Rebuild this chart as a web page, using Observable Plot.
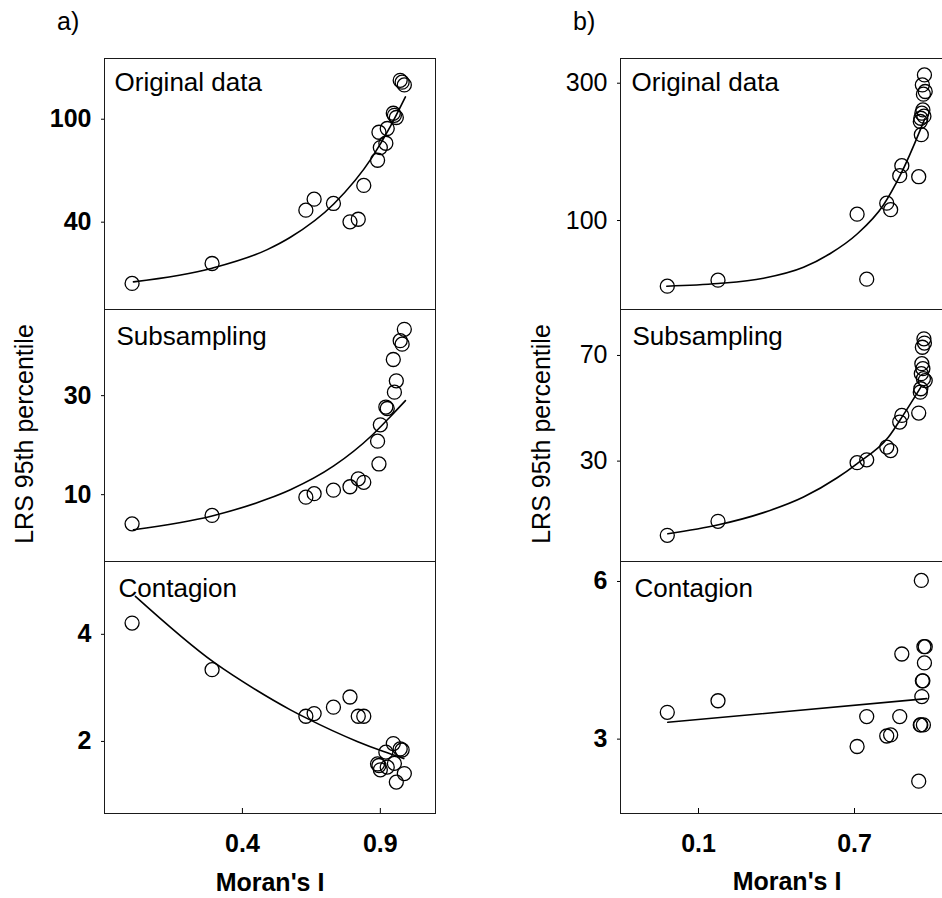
<!DOCTYPE html>
<html>
<head>
<meta charset="utf-8">
<script src="https://cdn.jsdelivr.net/npm/d3@7"></script>
<script src="https://cdn.jsdelivr.net/npm/@observablehq/plot@0.6"></script>
<style>
  html, body { margin: 0; padding: 0; background: #fff; overflow: hidden; }
  #chart { position: relative; width: 942px; height: 898px; overflow: hidden; background: #fff; }
  #chart svg { position: absolute; }
</style>
</head>
<body>
<div id="chart"></div>
<script>
// ---- Column a: Moran's I and LRS 95th percentile per simulated map ----
const moranA = [0.00, 0.29, 0.63, 0.66, 0.73, 0.79, 0.82, 0.84, 0.89, 0.895, 0.90, 0.92, 0.925, 0.947, 0.951, 0.958, 0.972, 0.979, 0.987];
const lrsOriginalA    = [4.3, 15.9, 47.0, 53.4, 50.9, 40.2, 41.7, 61.4, 76.1, 92.4, 83.5, 86.0, 94.6, 103.5, 102.3, 101.0, 122.7, 121.6, 120.0];
const lrsSubsamplingA = [4.1, 5.8, 9.5, 10.2, 10.9, 11.6, 13.2, 12.5, 20.8, 16.2, 24.1, 27.7, 27.4, 37.3, 30.7, 33.0, 41.1, 40.4, 43.4];
const lrsContagionA   = [4.21, 3.34, 2.47, 2.52, 2.64, 2.83, 2.47, 2.47, 1.58, 1.55, 1.47, 1.80, 1.52, 1.96, 1.59, 1.24, 1.86, 1.84, 1.40];

// fitted curves, column a
const fitMoranA         = [0.005, 0.29, 0.49, 0.574, 0.731, 0.87, 0.937, 0.991];
const fitOriginalA      = [5.2, 13.2, 24.0, 31.2, 50.6, 77.8, 96.0, 113.0];
const fitSubsamplingA   = [2.9, 5.7, 9.1, 11.0, 15.8, 22.0, 25.8, 29.0];
const fitMoranContA     = [0.012, 0.296, 0.45, 0.574, 0.634, 0.816, 0.912, 0.985];
const fitContagionA     = [4.71, 3.48, 2.96, 2.59, 2.43, 2.00, 1.81, 1.68];

// ---- Column b ----
const moranB = [-0.02, 0.175, 0.71, 0.747, 0.824, 0.839, 0.874, 0.882, 0.947, 0.953, 0.955, 0.957, 0.959, 0.961, 0.963, 0.965, 0.967, 0.969, 0.972];
const lrsOriginalB    = [4.4, 13.1, 109.2, 14.6, 125.3, 115.8, 165.3, 179.9, 163.8, 244.2, 249.0, 225.0, 256.3, 297.5, 261.1, 284.0, 252.0, 312.1, 287.9];
const lrsSubsamplingB = [1.9, 7.2, 29.4, 30.5, 35.3, 34.0, 44.8, 47.3, 48.2, 56.1, 57.4, 63.1, 66.9, 73.1, 65.0, 61.2, 76.3, 74.7, 60.5];
const lrsContagionB   = [3.51, 3.73, 2.86, 3.43, 3.06, 3.08, 3.43, 4.62, 2.20, 3.27, 3.27, 6.02, 3.81, 4.11, 4.11, 3.27, 4.76, 4.45, 4.76];

// fitted curves, column b
const fitMoranOrigB     = [-0.022, 0.175, 0.35, 0.504, 0.607, 0.709, 0.812, 0.876, 0.953, 0.970];
const fitOriginalB      = [4.3, 8.2, 16, 32, 52, 80, 123, 166, 232, 248];
const fitMoranSubB      = [-0.018, 0.177, 0.35, 0.504, 0.632, 0.709, 0.830, 0.888, 0.957];
const fitSubsamplingB   = [2.5, 5.9, 10.5, 16.4, 23.6, 29.0, 39.0, 47.5, 58.3];
const fitMoranContB     = [-0.018, 0.978];
const fitContagionB     = [3.32, 3.77];

// axis ticks
const xTicksA = [0.4, 0.9];
const xTicksB = [0.1, 0.7];
const yTicksOriginalA = [40, 100];
const yTicksSubsamplingA = [10, 30];
const yTicksContagionA = [2, 4];
const yTicksOriginalB = [100, 300];
const yTicksSubsamplingB = [30, 70];
const yTicksContagionB = [3, 6];

const FONT = '"Liberation Sans", Arial, Helvetica, sans-serif';
const chart = document.getElementById("chart");

function panel(o) {
  const mt = 12;
  const mb = o.xTicks ? 70 : 12;
  const ml = o.frameLeft - o.left;
  const mr = 2;
  const width = o.frameRight - o.left + mr;
  const frameH = o.bottom - o.top;
  const height = frameH + mt + mb;
  const pts = o.xs.map((x, i) => ({x, y: o.ys[i]}));
  const fit = o.fitX.map((x, i) => ({x, y: o.fitY[i]}));
  const marks = [
    Plot.frame({stroke: "#1a1a1a", strokeWidth: 1}),
    Plot.axisY({ticks: o.yTicks, tickFormat: d => String(d), tickSize: 3, tickPadding: 10, fontSize: 25,
                fontWeight: o.yBold ? "bold" : "normal", label: null}),
    Plot.line(fit, {x: "x", y: "y", curve: "monotone-x", stroke: "#000", strokeWidth: 1.6}),
    Plot.dot(pts, {x: "x", y: "y", r: 7, stroke: "#000", strokeWidth: 1.3, fill: "none"}),
    Plot.text([o.title], {text: d => d, frameAnchor: "top-left", dx: o.titleDx, dy: o.titleDy,
                          textAnchor: "start", lineAnchor: "top", fontSize: 26, fill: "#000"})
  ];
  if (o.xTicks) {
    marks.push(Plot.axisX({ticks: o.xTicks, tickFormat: d => String(d), tickSize: 0, tickPadding: 21,
                           fontSize: 25, fontWeight: "bold", label: null}));
    marks.push(Plot.tickX(o.xTicks, {x: d => d, insetTop: frameH - 5, stroke: "#000"}));
  }
  const svg = Plot.plot({
    width, height,
    marginLeft: ml, marginRight: mr, marginTop: mt, marginBottom: mb,
    x: {type: "linear", domain: o.xDomain, axis: o.xTicks ? undefined : null, label: null},
    y: {type: "linear", domain: o.yDomain, label: null},
    style: {background: "transparent", overflow: "visible", maxWidth: "none",
            fontFamily: FONT, fontSize: "25px", color: "#000"},
    marks
  });
  svg.style.left = o.left + "px";
  svg.style.top = (o.top - mt) + "px";
  chart.appendChild(svg);
}

const rows = [58, 309, 561, 813];
const colA = {left: 0, frameLeft: 104, frameRight: 435, xDomain: [-0.1, 1.1]};
const colB = {left: 470, frameLeft: 620, frameRight: 958, xDomain: [-0.2, 1.1]};

panel({...colA, top: rows[0], bottom: rows[1], xs: moranA, ys: lrsOriginalA,
       fitX: fitMoranA, fitY: fitOriginalA, yDomain: [-10.9, 135.4], yTicks: yTicksOriginalA,
       yBold: true, title: "Original data", titleDx: 10, titleDy: 14});
panel({...colA, top: rows[1], bottom: rows[2], xs: moranA, ys: lrsSubsamplingA,
       fitX: fitMoranA, fitY: fitSubsamplingA, yDomain: [-3.5, 47.4], yTicks: yTicksSubsamplingA,
       yBold: true, title: "Subsampling", titleDx: 12, titleDy: 17.5});
panel({...colA, top: rows[2], bottom: rows[3], xs: moranA, ys: lrsContagionA,
       fitX: fitMoranContA, fitY: fitContagionA, yDomain: [0.654, 5.36], yTicks: yTicksContagionA,
       yBold: true, title: "Contagion", titleDx: 14, titleDy: 17.5, xTicks: xTicksA});

panel({...colB, top: rows[0], bottom: rows[1], xs: moranB, ys: lrsOriginalB,
       fitX: fitMoranOrigB, fitY: fitOriginalB, yDomain: [-29.6, 336], yTicks: yTicksOriginalB,
       yBold: false, title: "Original data", titleDx: 11, titleDy: 14});
panel({...colB, top: rows[1], bottom: rows[2], xs: moranB, ys: lrsSubsamplingB,
       fitX: fitMoranSubB, fitY: fitSubsamplingB, yDomain: [-8.0, 87.4], yTicks: yTicksSubsamplingB,
       yBold: false, title: "Subsampling", titleDx: 12, titleDy: 17.5});
panel({...colB, top: rows[2], bottom: rows[3], xs: moranB, ys: lrsContagionB,
       fitX: fitMoranContB, fitY: fitContagionB, yDomain: [1.585, 6.38], yTicks: yTicksContagionB,
       yBold: true, title: "Contagion", titleDx: 14, titleDy: 17.5, xTicks: xTicksB});

// shared labels: column letters, y-axis titles and x-axis titles
const overlay = d3.select(chart).append("svg")
  .attr("width", 942).attr("height", 898)
  .style("left", "0px").style("top", "0px").style("pointer-events", "none")
  .style("font-family", FONT).style("fill", "#000");

overlay.append("text").attr("x", 57).attr("y", 30).attr("font-size", 25).text("a)");
overlay.append("text").attr("x", 573).attr("y", 30).attr("font-size", 25).text("b)");

[{x: 33}, {x: 550}].forEach(d => {
  overlay.append("text")
    .attr("transform", `translate(${d.x},434) rotate(-90)`)
    .attr("text-anchor", "middle").attr("font-size", 25)
    .text("LRS 95th percentile");
});

[{x: 270, y: 891}, {x: 787, y: 890}].forEach(d => {
  overlay.append("text")
    .attr("x", d.x).attr("y", d.y)
    .attr("text-anchor", "middle").attr("font-size", 25).attr("font-weight", "bold")
    .text("Moran's I");
});
</script>
</body>
</html>
